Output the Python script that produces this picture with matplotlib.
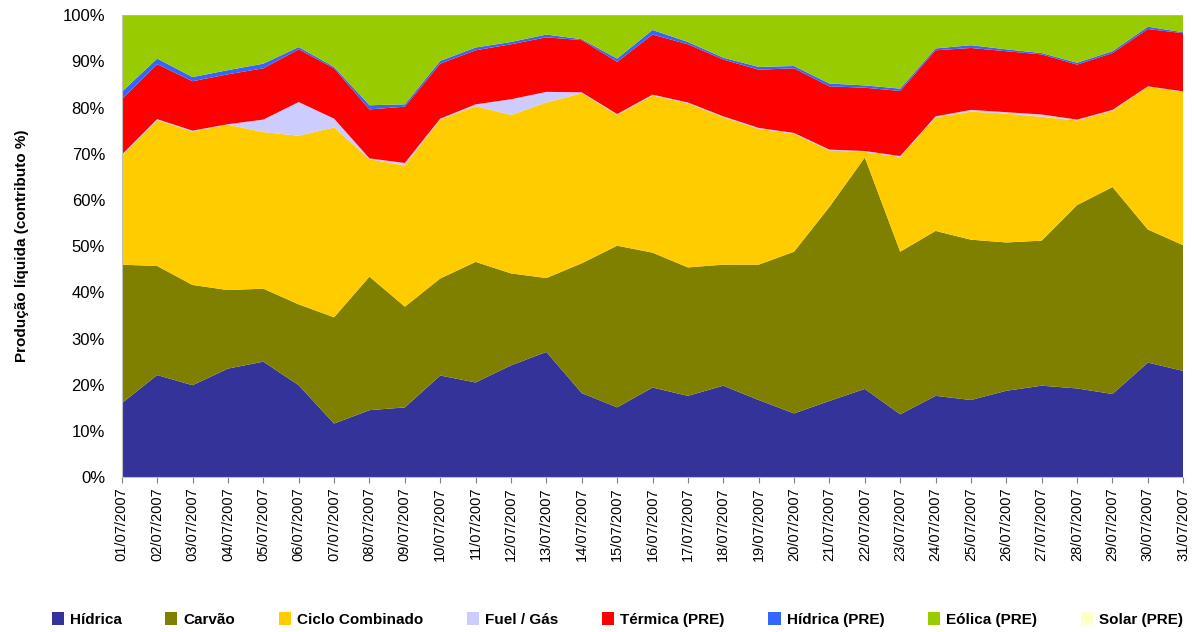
import numpy as np
import matplotlib
matplotlib.use("Agg")
import matplotlib.pyplot as plt
from matplotlib.ticker import FuncFormatter

plt.rcParams['font.family'] = ['Liberation Sans', 'DejaVu Sans']

dias = ["%02d/07/2007" % d for d in range(1, 32)]

hidrica = [16.0, 22.1, 19.9, 23.5, 25.0, 19.9, 11.6, 14.5, 15.1, 22.0, 20.5, 24.2, 27.1, 18.2, 15.1, 19.4,
           17.6, 19.8, 16.7, 13.8, 16.5, 19.1, 13.6, 17.6, 16.7, 18.7, 19.8, 19.2, 18.0, 24.8, 23.0]
carvao = [30.0, 23.6, 21.7, 17.0, 15.8, 17.5, 23.0, 28.9, 21.8, 21.0, 26.1, 19.9, 16.0, 28.1, 35.0, 29.2,
          27.8, 26.2, 29.3, 35.0, 42.0, 50.1, 35.2, 35.7, 34.7, 32.1, 31.4, 39.7, 44.8, 28.8, 27.2]
ciclo = [23.6, 31.6, 33.2, 35.8, 33.9, 36.5, 41.1, 25.4, 30.6, 34.4, 33.7, 34.3, 38.0, 36.8, 28.3, 34.0,
         35.5, 31.9, 29.4, 25.5, 12.2, 1.2, 20.5, 24.6, 27.7, 27.9, 26.8, 18.3, 16.5, 30.9, 33.2]
fuel = [0.2, 0.2, 0.2, 0.1, 2.7, 7.3, 1.9, 0.2, 0.5, 0.2, 0.4, 3.4, 2.3, 0.2, 0.2, 0.2,
        0.2, 0.2, 0.2, 0.2, 0.2, 0.2, 0.2, 0.2, 0.4, 0.3, 0.5, 0.2, 0.2, 0.1, 0.1]
termica_pre = [12.0, 11.9, 10.7, 10.8, 11.1, 11.4, 10.9, 10.6, 12.2, 11.9, 11.7, 11.9, 11.8, 11.3, 11.3, 13.0,
               12.6, 12.3, 12.6, 14.0, 13.7, 13.7, 14.1, 14.3, 13.4, 13.2, 13.0, 11.9, 12.3, 12.4, 12.6]
hidrica_pre = [1.6, 1.2, 0.9, 0.9, 1.0, 0.5, 0.3, 0.9, 0.5, 0.6, 0.6, 0.5, 0.6, 0.2, 0.7, 1.0,
               0.5, 0.4, 0.6, 0.5, 0.6, 0.5, 0.5, 0.4, 0.6, 0.4, 0.3, 0.4, 0.4, 0.5, 0.2]
eolica_pre = [16.6, 9.4, 13.4, 11.9, 10.5, 6.9, 11.2, 19.5, 19.3, 9.9, 7.0, 5.8, 4.2, 5.2, 9.4, 3.2,
              5.8, 9.2, 11.2, 11.0, 14.8, 15.2, 15.9, 7.2, 6.5, 7.4, 8.2, 10.3, 7.8, 2.5, 3.7]
solar_pre = [0.0] * 31

series = [hidrica, carvao, ciclo, fuel, termica_pre, hidrica_pre, eolica_pre, solar_pre]
nomes = ["Hídrica", "Carvão", "Ciclo Combinado", "Fuel / Gás", "Térmica (PRE)",
         "Hídrica (PRE)", "Eólica (PRE)", "Solar (PRE)"]
cores = ["#333399", "#808000", "#FFCC00", "#CCCCFF", "#FF0000", "#3366FF", "#99CC00", "#FFFFCC"]

x = np.arange(len(dias))

fig = plt.figure(figsize=(11.94, 6.32), dpi=100)
ax = fig.add_axes([0.102, 0.245, 0.889, 0.731])
polys = ax.stackplot(x, *series, colors=cores, labels=nomes, linewidth=0)

ax.set_xlim(0, len(dias) - 1)
ax.set_ylim(0, 100)
ax.set_yticks(np.arange(0, 101, 10))
ax.yaxis.set_major_formatter(FuncFormatter(lambda v, p: "%d%%" % v))
ax.set_xticks(x)
ax.set_xticklabels(dias, rotation=90, fontsize=10.5)
ax.tick_params(axis='y', labelsize=12, length=0, pad=12)
ax.tick_params(axis='x', length=4, color='#808080', pad=3)
for s in ['top', 'right']:
    ax.spines[s].set_visible(False)
ax.spines['left'].set_color('#C0C0C0')
ax.spines['bottom'].set_color('#C0C0C0')
ax.set_ylabel("Produção líquida (contributo %)", fontsize=11, fontweight='bold', labelpad=24)

fig.legend(handles=polys, labels=nomes, loc='center', bbox_to_anchor=(0.517, 0.02), ncol=8,
           frameon=False, handlelength=0.8, handleheight=0.9, handletextpad=0.4,
           columnspacing=2.85, prop={'weight': 'bold', 'size': 11})

fig.savefig("out.png", dpi=100)
